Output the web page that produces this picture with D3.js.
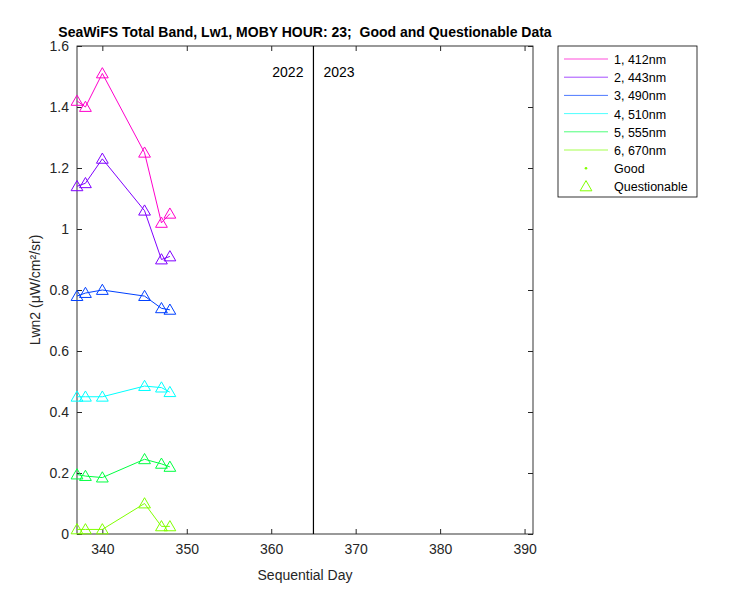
<!DOCTYPE html>
<html><head><meta charset="utf-8">
<script src="https://cdn.jsdelivr.net/npm/d3@7"></script>
<style>body{margin:0;background:#fff}text{font-family:Arial,"Liberation Sans",sans-serif}</style>
</head><body><div id="chart"></div>
<script>
var days = [337, 338, 340, 345, 347, 348];
var bands = ["1, 412nm", "2, 443nm", "3, 490nm", "4, 510nm", "5, 555nm", "6, 670nm"];
var colors = ["#ff00cc", "#8000ff", "#0040ff", "#00ffff", "#00ff40", "#80ff00"];
var values = [
  [1.42, 1.40, 1.51, 1.25, 1.02, 1.05],
  [1.14, 1.15, 1.23, 1.06, 0.90, 0.91],
  [0.78, 0.79, 0.80, 0.78, 0.74, 0.735],
  [0.45, 0.45, 0.45, 0.485, 0.48, 0.465],
  [0.195, 0.19, 0.185, 0.245, 0.23, 0.22],
  [0.015, 0.015, 0.015, 0.10, 0.025, 0.025]
];
var xTicks = [340, 350, 360, 370, 380, 390];
var yTicks = [0, 0.2, 0.4, 0.6, 0.8, 1, 1.2, 1.4, 1.6];

var svg = d3.select("#chart").append("svg").attr("width", 750).attr("height", 600);
var x = d3.scaleLinear().domain([337, 391]).range([77, 533]);
var y = d3.scaleLinear().domain([0, 1.6]).range([534, 46]);

// box
svg.append("rect").attr("x", 77).attr("y", 46).attr("width", 456).attr("height", 488)
  .attr("fill", "none").attr("stroke", "#000").attr("stroke-width", 0.8);

svg.append("g").attr("transform", "translate(0,534)")
  .call(d3.axisBottom(x).tickValues(xTicks).tickSize(-5).tickPadding(10));
svg.append("g").attr("transform", "translate(77,0)")
  .call(d3.axisLeft(y).tickValues(yTicks).tickFormat(d3.format("~g")).tickSize(-5).tickPadding(8));
svg.append("g").attr("transform", "translate(0,46)")
  .call(d3.axisTop(x).tickValues(xTicks).tickSize(-5).tickFormat(""));
svg.append("g").attr("transform", "translate(533,0)")
  .call(d3.axisRight(y).tickValues(yTicks).tickSize(-5).tickFormat(""));
svg.selectAll(".domain").remove();
svg.selectAll(".tick text").attr("font-size", 14).attr("fill", "#262626");
svg.selectAll(".tick line").attr("stroke", "#262626");

// year divider
svg.append("line").attr("x1", x(365)).attr("x2", x(365)).attr("y1", 46).attr("y2", 534)
  .attr("stroke", "#000").attr("stroke-width", 1.2);
svg.append("text").attr("x", x(365) - 10).attr("y", 77).attr("text-anchor", "end")
  .attr("font-size", 14).text("2022");
svg.append("text").attr("x", x(365) + 10).attr("y", 77).attr("font-size", 14).text("2023");

var line = d3.line().x(function(d, i) { return x(days[i]); }).y(function(d) { return y(d); });
var tri = d3.symbol().type(d3.symbolTriangle).size(60);

values.forEach(function(s, k) {
  svg.append("path").attr("d", line(s)).attr("fill", "none")
    .attr("stroke", colors[k]).attr("stroke-width", 1);
  svg.selectAll(null).data(s).enter().append("path")
    .attr("d", tri)
    .attr("transform", function(d, i) { return "translate(" + x(days[i]) + "," + (y(d) + 1) + ")"; })
    .attr("fill", "none").attr("stroke", colors[k]).attr("stroke-width", 1);
});

svg.append("text").attr("x", 305).attr("y", 37).attr("text-anchor", "middle")
  .attr("font-size", 14).attr("font-weight", "bold").style("white-space", "pre")
  .text("SeaWiFS Total Band, Lw1, MOBY HOUR: 23;  Good and Questionable Data");
svg.append("text").attr("x", 305).attr("y", 580).attr("text-anchor", "middle")
  .attr("font-size", 14).attr("fill", "#262626").text("Sequential Day");
svg.append("text").attr("transform", "translate(40,290) rotate(-90)").attr("text-anchor", "middle")
  .attr("font-size", 14).attr("fill", "#262626").text("Lwn2 (μW/cm²/sr)");

// legend
var lg = svg.append("g").attr("transform", "translate(558,46)");
lg.append("rect").attr("width", 139).attr("height", 151).attr("fill", "#fff")
  .attr("stroke", "#000").attr("stroke-width", 0.8);
bands.forEach(function(b, k) {
  var yy = 13 + k * 18.2;
  lg.append("line").attr("x1", 6).attr("x2", 50).attr("y1", yy).attr("y2", yy)
    .attr("stroke", colors[k]).attr("stroke-width", 0.7);
  lg.append("text").attr("x", 56).attr("y", yy + 5).attr("font-size", 12.5).text(b);
});
lg.append("circle").attr("cx", 28).attr("cy", 13 + 6 * 18.2).attr("r", 1.3).attr("fill", colors[5]);
lg.append("text").attr("x", 56).attr("y", 18 + 6 * 18.2).attr("font-size", 12.5).text("Good");
lg.append("path").attr("d", tri).attr("transform", "translate(28," + (14 + 7 * 18.2) + ")")
  .attr("fill", "none").attr("stroke", colors[5]);
lg.append("text").attr("x", 56).attr("y", 18 + 7 * 18.2).attr("font-size", 12.5).text("Questionable");
</script></body></html>
